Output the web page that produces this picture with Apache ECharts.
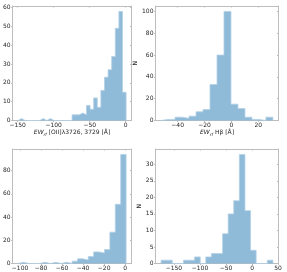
<!DOCTYPE html>
<html><head><meta charset="utf-8">
<script src="https://cdn.jsdelivr.net/npm/echarts@6/dist/echarts.min.js"></script>
<style>html,body{margin:0;padding:0;background:#fff}#c{width:287px;height:272px}</style>
</head><body><div id="c"></div>
<script>
// Panel 1: EW_rf [OII]
const p1Start = -149.5, p1Width = 5.0;
const p1Counts = [1,0,0,0,0,0,1,0,1,0,0,0,0,0,0,3,3,4,3,8,6,12,7,16,23,27,34,49,58,15];
const p1XTicks = [-150,-100,-50,0];
const p1YTicks = [0,10,20,30,40,50,60];
// Panel 2: EW_rf Hbeta
const p2Start = -52.3, p2Width = 5.2;
const p2Counts = [1,1,3,2,4,8,10,33,60,100,15,11,3,1,0,3];
const p2XTicks = [-40,-20,0,20];
const p2YTicks = [0,20,40,60,80,100];
// Panel 3
const p3Start = -101.9, p3Width = 5.14;
const p3Counts = [1,0,0,0,1,0,1,0,1,0,2,4,3,6,10,9,12,27,51,94];
const p3XTicks = [-100,-80,-60,-40,-20,0];
const p3YTicks = [0,20,40,60,80];
// Panel 4
const p4Start = -174.6, p4Width = 10.73;
const p4Counts = [1,1,0,0,1,1,2,0,2,3,3,9,15,19,33,16,4,0,0,1];
const p4XTicks = [-150,-100,-50,0,50];
const p4YTicks = [0,5,10,15,20,25,30];

const xLabel1 = '{it|EW}{sub|rf} [OII]λ3726, 3729 [Å]';
const xLabel2 = '{it|EW}{sub|rf} Hβ [Å]';
const yLabel = 'N';

const FILL = '#8fbbd9';
const EDGE = '#b3d0e6';
const FRAME = '#bdbdbd';
const TXT = '#262626';
const FONT = 'DejaVu Sans';
const FS = 6;

const panels = [
  {start:p1Start, w:p1Width, counts:p1Counts, xt:p1XTicks, yt:p1YTicks, grid:{left:9,top:6,width:122.5,height:114.5}, xname:xLabel1, yname:null, yGap:0},
  {start:p2Start, w:p2Width, counts:p2Counts, xt:p2XTicks, yt:p2YTicks, grid:{left:155.5,top:6,width:123,height:114.5}, xname:xLabel2, yname:yLabel, yGap:15},
  {start:p3Start, w:p3Width, counts:p3Counts, xt:p3XTicks, yt:p3YTicks, grid:{left:9,top:149,width:122.5,height:114.5}, xname:null, yname:null, yGap:0},
  {start:p4Start, w:p4Width, counts:p4Counts, xt:p4XTicks, yt:p4YTicks, grid:{left:155.5,top:149,width:123,height:114.5}, xname:null, yname:yLabel, yGap:11}
];

const fmt = v => String(v).replace('-', '−');
const grids=[], xAxes=[], yAxes=[], series=[];
panels.forEach((p,i)=>{
  const n = p.counts.length;
  const lo = p.start, hi = p.start + n*p.w;
  const pad = (hi-lo)*0.05;
  const xmin = lo - pad, xmax = hi + pad;
  const ymax = Math.max(...p.counts)*1.05;
  grids.push(Object.assign({containLabel:false}, p.grid));
  const lineStyle = {color:FRAME, width:1};
  xAxes.push({type:'value', gridIndex:i, position:'bottom', min:xmin, max:xmax,
    splitLine:{show:false}, axisLine:{show:true, onZero:false, lineStyle},
    axisTick:{show:true, length:1.5, inside:false, customValues:p.xt, lineStyle},
    axisLabel:{show:true, customValues:p.xt, formatter:fmt, fontSize:FS, fontFamily:FONT, color:TXT, margin:2},
    name:p.xname, nameLocation:'middle', nameGap:9,
    nameTextStyle:{fontSize:FS, fontFamily:FONT, color:TXT,
      rich:{it:{fontStyle:'italic', fontSize:FS, fontFamily:FONT, color:TXT, verticalAlign:'bottom'},
            sub:{fontStyle:'italic', fontSize:4.3, fontFamily:FONT, color:TXT, verticalAlign:'bottom', padding:[0,0,-1.5,0]}}}
  });
  xAxes.push({type:'value', gridIndex:i, position:'top', min:xmin, max:xmax,
    splitLine:{show:false}, axisLine:{show:true, onZero:false, lineStyle},
    axisTick:{show:true, length:1.5, inside:true, customValues:p.xt, lineStyle},
    axisLabel:{show:false}});
  yAxes.push({type:'value', gridIndex:i, position:'left', min:0, max:ymax,
    splitLine:{show:false}, axisLine:{show:true, onZero:false, lineStyle},
    axisTick:{show:true, length:1.5, inside:false, customValues:p.yt, lineStyle},
    axisLabel:{show:true, customValues:p.yt, formatter:fmt, fontSize:FS, fontFamily:FONT, color:TXT, margin:2},
    name:p.yname, nameLocation:'middle', nameGap:p.yGap, nameRotate:90,
    nameTextStyle:{fontSize:FS, fontFamily:FONT, color:TXT}});
  yAxes.push({type:'value', gridIndex:i, position:'right', min:0, max:ymax,
    splitLine:{show:false}, axisLine:{show:true, onZero:false, lineStyle},
    axisTick:{show:true, length:1.5, inside:true, customValues:p.yt, lineStyle},
    axisLabel:{show:false}});
  // step outline of the histogram (stepfilled)
  const pts = [[lo, 0]];
  p.counts.forEach((c,k)=>pts.push([p.start+k*p.w, c]));
  pts.push([hi, 0]);
  series.push({type:'line', xAxisIndex:2*i, yAxisIndex:2*i, data:pts, step:'end',
    showSymbol:false, symbol:'none', silent:true, z:2,
    lineStyle:{color:EDGE, width:0.8},
    areaStyle:{color:FILL, opacity:1}});
});

const chart = echarts.init(document.getElementById('c'), null, {renderer:'canvas'});
chart.setOption({animation:false, backgroundColor:'#fff', grid:grids, xAxis:xAxes, yAxis:yAxes, series});
</script></body></html>
